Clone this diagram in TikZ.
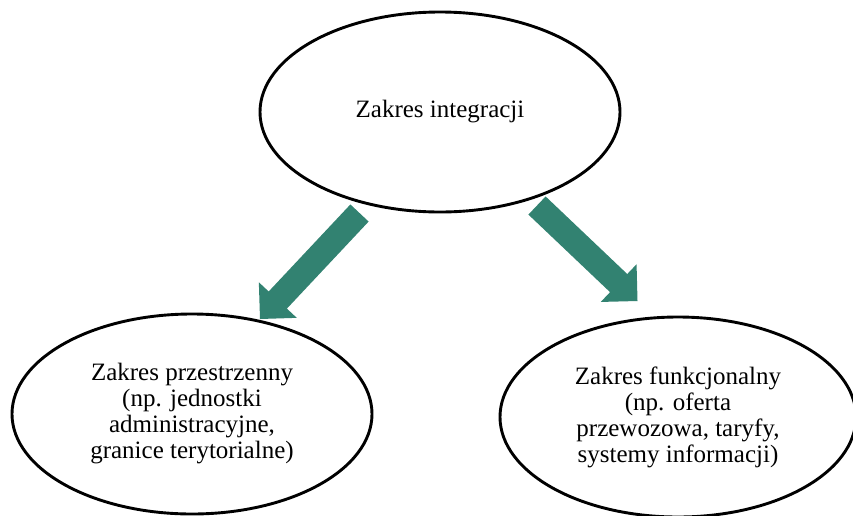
\documentclass[tikz,border=0pt]{standalone}
\usepackage{fontspec}
\setmainfont{Liberation Serif}
\usetikzlibrary{shapes.geometric,calc}
\definecolor{arrowteal}{RGB}{50,130,113}
% wide block arrow from coordinate #1 (tail) to coordinate #2 (tip):
% shaft 25pt wide, right-angled head 52pt wide and 26pt long
\newcommand\blockarrow[2]{%
  \coordinate (#1-base) at ($(#2)!26pt!(#1)$);
  \fill[arrowfill]
    ($(#1)!12.5pt!90:(#2)$) -- ($(#1-base)!12.5pt!-90:(#1)$)
    -- ($(#1-base)!26pt!-90:(#1)$) -- (#2)
    -- ($(#1-base)!26pt!90:(#1)$) -- ($(#1-base)!12.5pt!90:(#1)$)
    -- ($(#1)!12.5pt!-90:(#2)$) -- cycle;}
\begin{document}
\begin{tikzpicture}[x=1pt,y=-1pt,
  oval/.style={ellipse, draw=black, fill=white, line width=2.9pt,
    minimum width=360pt, minimum height=200pt, inner sep=0pt,
    align=center, font=\fontsize{25}{26}\selectfont},
  arrowfill/.style={fill=arrowteal}]
\useasboundingbox (0,0) rectangle (853,515);

% the three scopes of integration
\node[oval] (integ) at (440,112) {Zakres integracji};
\node[oval] (spat) at (192,414) {Zakres przestrzenny\\(np. jednostki\\administracyjne,\\granice terytorialne)};
\node[oval, minimum width=356pt] (func) at (678,417) {Zakres funkcjonalny\\(np. oferta\\przewozowa, taryfy,\\systemy informacji)};

% wide block arrows between the ellipses
\coordinate (ltail) at (359.5,213);
\coordinate (lhead) at (260,319);
\coordinate (rtail) at (537,205.5);
\coordinate (rhead) at (637.5,301);
\blockarrow{ltail}{lhead}
\blockarrow{rtail}{rhead}
\end{tikzpicture}
\end{document}
